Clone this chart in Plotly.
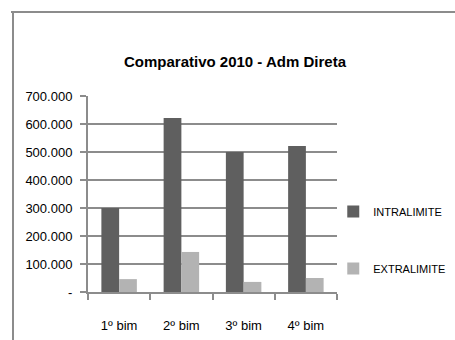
import plotly.graph_objects as go

categories = ["1º bim", "2º bim", "3º bim", "4º bim"]
intralimite = [300000, 621000, 500000, 521000]
extralimite = [46000, 143000, 36000, 50000]
series_names = ["INTRALIMITE", "EXTRALIMITE"]
y_tickvals = [0, 100000, 200000, 300000, 400000, 500000, 600000, 700000]
y_ticktext = ["-", "100.000", "200.000", "300.000", "400.000", "500.000", "600.000", "700.000"]
title_text = "Comparativo 2010 - Adm Direta"

FONT = "Liberation Sans, Arial, sans-serif"

fig = go.Figure()
fig.add_trace(go.Bar(x=categories, y=intralimite, name=series_names[0],
                     marker=dict(color="#5f5f5f", line=dict(width=0)), legendgroup="a"))
fig.add_trace(go.Bar(x=categories, y=extralimite, name=series_names[1],
                     marker=dict(color="#b3b3b3", line=dict(width=0)), legendgroup="b"))

fig.update_layout(
    width=455, height=340,
    margin=dict(l=88, r=118, t=96, b=48, autoexpand=False),
    paper_bgcolor="white", plot_bgcolor="white",
    font=dict(family=FONT, size=13, color="black"),
    barmode="group", bargap=0.43, bargroupgap=0,
    title=dict(text="<b>" + title_text + "</b>", x=235/455, xanchor="center",
               y=1 - 62/340, yanchor="middle", font=dict(size=15, family=FONT)),
    legend=dict(x=0.985, xanchor="left", y=0.265, yanchor="middle",
                font=dict(size=11, family=FONT), tracegroupgap=38,
                traceorder="grouped", itemwidth=30, bgcolor="rgba(0,0,0,0)"),
    showlegend=True,
    xaxis=dict(showline=True, linecolor="#8c8c8c", linewidth=2,
               ticks="outside", tickson="boundaries", ticklen=6, tickwidth=2,
               tickcolor="#8c8c8c", ticklabelstandoff=20, showgrid=False,
               tickfont=dict(size=13)),
    yaxis=dict(range=[0, 700000], tickvals=y_tickvals, ticktext=y_ticktext,
               showline=True, linecolor="#8c8c8c", linewidth=2,
               ticks="outside", ticklen=6, tickwidth=2, tickcolor="#8c8c8c",
               showgrid=True, gridcolor="#8c8c8c", gridwidth=2, zeroline=False,
               ticklabelstandoff=5, tickfont=dict(size=13)),
    shapes=[dict(type="line", xref="paper", yref="paper",
                 x0=-77/249, x1=(455-88)/249, y0=1 + 84/196, y1=1 + 84/196,
                 line=dict(color="#8c8c8c", width=2)),
            dict(type="line", xref="paper", yref="paper",
                 x0=-75/249, x1=-75/249, y0=1 + 85/196, y1=-48/196,
                 line=dict(color="#8c8c8c", width=2))],
)

fig.write_html("out.html")
